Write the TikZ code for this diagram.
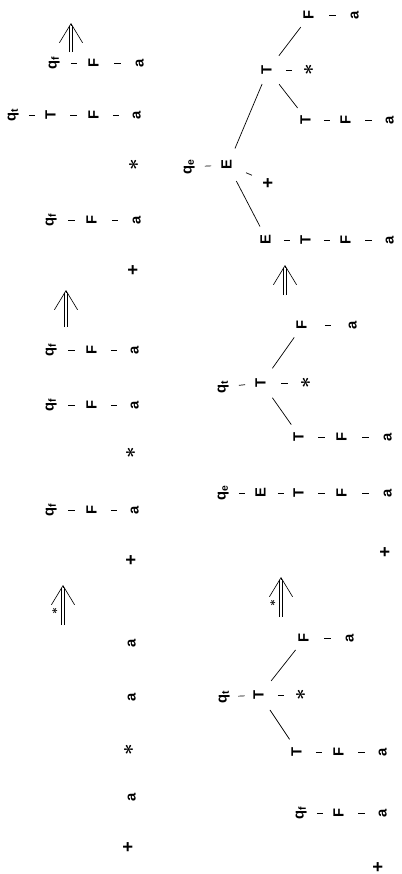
\documentclass[tikz,border=0pt]{standalone}
\usepackage{graphicx}
\usepackage{fontspec}
\setmainfont{Liberation Sans}
\usetikzlibrary{arrows.meta,calc}

\newcommand{\upsym}[1]{\rotatebox{90}{\vphantom{Tq}#1}}
\newcommand{\opstar}{{\fontsize{14}{14}\selectfont\boldmath$\ast$}}
\newcommand{\opplus}{{\fontsize{13}{13}\selectfont +}}

\tikzset{
    sym/.style={inner sep=1pt, font=\bfseries\fontsize{10.5}{12}\selectfont},
    mark star/.style={inner sep=0pt, font=\fontsize{8}{8}\selectfont},
    link/.style={line width=0.5pt},
    branch/.style={shorten <=4.5mm, shorten >=3.8mm, line width=0.5pt},
    barb/.style={line width=0.45pt, -{Straight Barb[length=4.8mm, width=5.8mm, line width=0.45pt]}},
    shaft/.style={double, double distance=1.4pt, line width=0.45pt, shorten >=0.8mm}
}

\begin{document}
\begin{tikzpicture}[x=0.25mm, y=-0.25mm]
\useasboundingbox (0,0) rectangle (401,874);

% left column, first line
\node[sym] (l1p) at (130,847) {\upsym{\opplus}};
\node[sym] (l1a) at (132,797) {\upsym{a}};
\node[sym] (l1m) at (130,750) {\upsym{\opstar}};
\node[sym] (l1b) at (132,697) {\upsym{a}};
\node[sym] (l1c) at (132,643) {\upsym{a}};

% left column, second line
\node[sym] (l2p) at (133,560) {\upsym{\opplus}};
\node[sym] (l2q1) at (50,510) {\upsym{q\textsubscript{f}}};
\node[sym] (l2f1) at (93,510) {\upsym{F}};
\node[sym] (l2a1) at (135,510) {\upsym{a}};
\node[sym] (l2m) at (132,453) {\upsym{\opstar}};
\node[sym] (l2q2) at (50,405) {\upsym{q\textsubscript{f}}};
\node[sym] (l2f2) at (93,405) {\upsym{F}};
\node[sym] (l2a2) at (135,405) {\upsym{a}};
\node[sym] (l2q3) at (50,350) {\upsym{q\textsubscript{f}}};
\node[sym] (l2f3) at (93,350) {\upsym{F}};
\node[sym] (l2a3) at (135,350) {\upsym{a}};

% left column, third line
\node[sym] (l3p) at (135,270) {\upsym{\opplus}};
\node[sym] (l3q1) at (50,220) {\upsym{q\textsubscript{f}}};
\node[sym] (l3f1) at (93,220) {\upsym{F}};
\node[sym] (l3a1) at (137,220) {\upsym{a}};
\node[sym] (l3m) at (135,165) {\upsym{\opstar}};
\node[sym] (l3q2) at (12,115) {\upsym{q\textsubscript{t}}};
\node[sym] (l3t2) at (52,115) {\upsym{T}};
\node[sym] (l3f2) at (95,115) {\upsym{F}};
\node[sym] (l3a2) at (137,115) {\upsym{a}};
\node[sym] (l3q3) at (53,63) {\upsym{q\textsubscript{f}}};
\node[sym] (l3f3) at (95,63) {\upsym{F}};
\node[sym] (l3a3) at (140,63) {\upsym{a}};

% right column, first tree
\node[sym] (r1f1) at (305,638) {\upsym{F}};
\node[sym] (r1a1) at (350,638) {\upsym{a}};
\node[sym] (r1q) at (223,697) {\upsym{q\textsubscript{t}}};
\node[sym] (r1t) at (260,695) {\upsym{T}};
\node[sym] (r1m) at (302,695) {\upsym{\opstar}};
\node[sym] (r1t2) at (298,752) {\upsym{T}};
\node[sym] (r1f2) at (340,752) {\upsym{F}};
\node[sym] (r1a2) at (383,752) {\upsym{a}};
\node[sym] (r1q3) at (300,813) {\upsym{q\textsubscript{f}}};
\node[sym] (r1f3) at (340,813) {\upsym{F}};
\node[sym] (r1a3) at (383,813) {\upsym{a}};
\node[sym] (r1p) at (380,867) {\upsym{\opplus}};

% right column, second tree
\node[sym] (r2f1) at (303,325) {\upsym{F}};
\node[sym] (r2a1) at (353,325) {\upsym{a}};
\node[sym] (r2q) at (222,387) {\upsym{q\textsubscript{t}}};
\node[sym] (r2t) at (262,383) {\upsym{T}};
\node[sym] (r2m) at (307,383) {\upsym{\opstar}};
\node[sym] (r2t2) at (300,437) {\upsym{T}};
\node[sym] (r2f2) at (343,437) {\upsym{F}};
\node[sym] (r2a2) at (388,437) {\upsym{a}};
\node[sym] (r2q3) at (222,493) {\upsym{q\textsubscript{e}}};
\node[sym] (r2e3) at (262,493) {\upsym{E}};
\node[sym] (r2t3) at (300,493) {\upsym{T}};
\node[sym] (r2f3) at (343,493) {\upsym{F}};
\node[sym] (r2a3) at (388,493) {\upsym{a}};
\node[sym] (r2p) at (387,552) {\upsym{\opplus}};

% right column, third tree
\node[sym] (r3f1) at (310,15) {\upsym{F}};
\node[sym] (r3a1) at (355,15) {\upsym{a}};
\node[sym] (r3t) at (268,70) {\upsym{T}};
\node[sym] (r3m) at (310,70) {\upsym{\opstar}};
\node[sym] (r3t2) at (307,120) {\upsym{T}};
\node[sym] (r3f2) at (347,120) {\upsym{F}};
\node[sym] (r3a2) at (390,120) {\upsym{a}};
\node[sym] (r3q) at (188,167) {\upsym{q\textsubscript{e}}};
\node[sym] (r3e) at (228,165) {\upsym{E}};
\node[sym] (r3p) at (270,183) {\upsym{\opplus}};
\node[sym] (r3e2) at (267,240) {\upsym{E}};
\node[sym] (r3t3) at (307,240) {\upsym{T}};
\node[sym] (r3f3) at (347,240) {\upsym{F}};
\node[sym] (r3a3) at (390,240) {\upsym{a}};

% short links, a small tick half way
\foreach \u/\v in {l2q1/l2f1, l2f1/l2a1, l2q2/l2f2, l2f2/l2a2, l2q3/l2f3, l2f3/l2a3,
    l3q1/l3f1, l3f1/l3a1, l3q2/l3t2, l3t2/l3f2, l3f2/l3a2, l3q3/l3f3, l3f3/l3a3,
    r1f1/r1a1, r1q/r1t, r1t/r1m, r1t2/r1f2, r1f2/r1a2, r1q3/r1f3, r1f3/r1a3,
    r2f1/r2a1, r2q/r2t, r2t/r2m, r2t2/r2f2, r2f2/r2a2, r2q3/r2e3, r2e3/r2t3, r2t3/r2f3, r2f3/r2a3,
    r3f1/r3a1, r3t/r3m, r3t2/r3f2, r3f2/r3a2, r3q/r3e, r3e/r3p, r3e2/r3t3, r3t3/r3f3, r3f3/r3a3}
    \draw[link] ($(\u.center)!0.5!(\v.center)!-0.8mm!(\v.center)$) -- ($(\u.center)!0.5!(\v.center)!0.8mm!(\v.center)$);

% long branches
\foreach \u/\v in {r1t/r1f1, r1t/r1t2, r2t/r2f1, r2t/r2t2, r3t/r3f1, r3t/r3t2, r3e/r3t, r3e/r3e2}
    \draw[branch] (\u.center) -- (\v.center);

% derivation arrows
\coordinate (tail1) at (63,625);  \coordinate (tip1) at (63,585);
\coordinate (tail2) at (66,327);  \coordinate (tip2) at (66,290);
\coordinate (tail3) at (71,52);   \coordinate (tip3) at (71,23);
\coordinate (tail4) at (281,617); \coordinate (tip4) at (281,577);
\coordinate (tail5) at (285,295); \coordinate (tip5) at (285,265);
\foreach \i in {1,...,5} {
    \draw[barb] (tail\i) -- (tip\i);
    \draw[shaft] (tail\i) -- (tip\i);
}
\node[mark star] (k1) at (55,611) {\upsym{\boldmath$\ast$}};
\node[mark star] (k4) at (273,603) {\upsym{\boldmath$\ast$}};
\end{tikzpicture}
\end{document}
